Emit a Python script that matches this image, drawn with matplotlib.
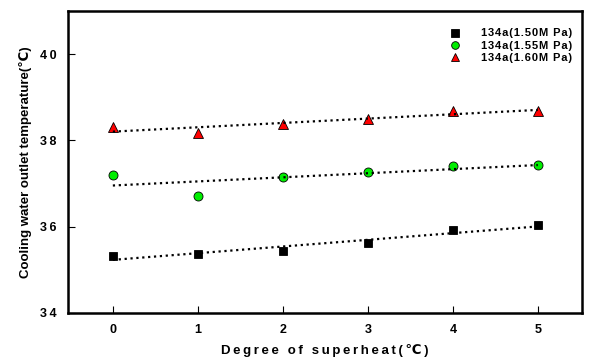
import numpy as np
import matplotlib.pyplot as plt

# superheat (C) and outlet temperature (C) for each condensing pressure
superheat = [0, 1, 2, 3, 4, 5]
t_150 = [35.32, 35.37, 35.43, 35.62, 35.93, 36.03]
t_155 = [37.20, 36.70, 37.15, 37.27, 37.40, 37.42]
t_160 = [38.30, 38.18, 38.38, 38.50, 38.68, 38.68]
labels = ['134a(1.50M Pa)', '134a(1.55M Pa)', '134a(1.60M Pa)']
yticks = [34, 36, 38, 40]

plt.rcParams['font.family'] = ['Liberation Sans', 'DejaVu Sans']


def spaced(s, gap='\u2009'):
    # loose letter tracking with thin spaces
    return gap.join(s)


def main():
    fig = plt.figure(figsize=(6, 3.63), dpi=100)
    ax = fig.add_axes([0.113, 0.138, 0.857, 0.832])

    styles = [dict(marker='s', color='black', mec='black', ms=6),
              dict(marker='o', color='#00ee00', mec='black', ms=6.5),
              dict(marker='^', color='red', mec='black', ms=6.5)]

    x = np.array(superheat)
    for y, lab, st in zip([t_150, t_155, t_160], labels, styles):
        ax.plot(x, y, ls='none', mew=0.6, label=spaced(lab, '\u200a'), **st)
        # linear fit drawn as dotted line
        p = np.polyfit(x, y, 1)
        ax.plot(x, np.polyval(p, x), ls=':', color='black', lw=1.6)

    ax.set_xlim(-0.53, 5.52)
    ax.set_ylim(34, 41)
    ax.set_xticks(superheat)
    ax.set_yticks(yticks)
    ax.set_xticklabels([str(v) for v in superheat])
    ax.set_yticklabels([spaced(str(v)) for v in yticks])
    ax.tick_params(direction='in', length=5, width=0.8, labelsize=9)
    for lab in ax.get_xticklabels() + ax.get_yticklabels():
        lab.set_fontweight('bold')
    ax.tick_params(axis='x', pad=8)
    ax.tick_params(axis='y', pad=8)

    for sp in ax.spines.values():
        sp.set_linewidth(1.8)

    ax.set_xlabel(spaced('Degree of superheat(℃)'), fontsize=9.5,
                  fontweight='bold', labelpad=6)
    ax.set_ylabel('Cooling water outlet temperature(℃)', fontsize=9.5,
                  fontweight='bold', labelpad=6)

    ax.legend(loc='upper right', bbox_to_anchor=(1.0, 0.975), frameon=False,
              prop=dict(size=8, weight='bold'), handletextpad=1.3,
              labelspacing=0.2, markerscale=0.85)

    fig.savefig('out.png', dpi=100)


if __name__ == '__main__':
    main()
